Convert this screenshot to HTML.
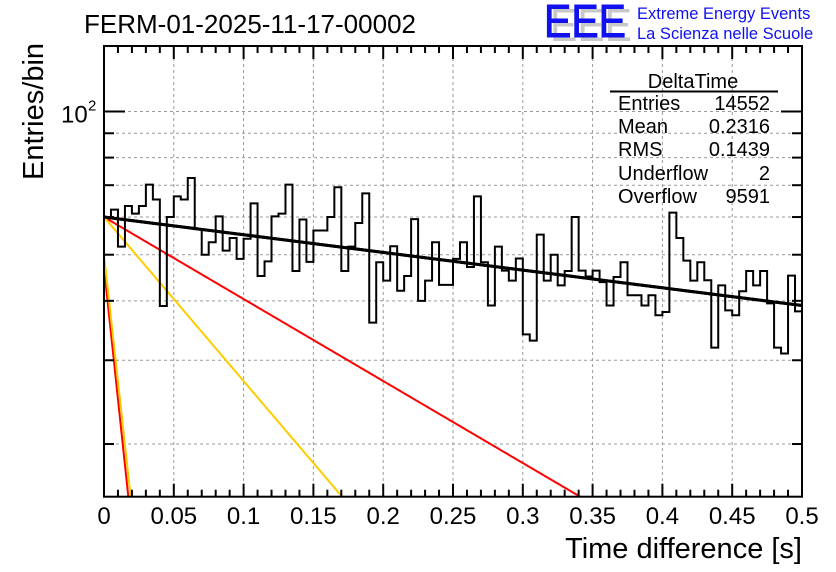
<!DOCTYPE html>
<html><head><meta charset="utf-8"><style>
body{margin:0;background:#fff;}
svg{display:block;font-family:"Liberation Sans",Arial,sans-serif;}
</style></head><body>
<svg id="chart" width="836" height="572" viewBox="0 0 836 572" xmlns="http://www.w3.org/2000/svg">
<rect width="836" height="572" fill="#fff"/>
<g id="grid"></g>
<g id="marks"></g>
<g id="axes"></g>
<text x="84" y="33" font-size="26" textLength="332" lengthAdjust="spacingAndGlyphs">FERM-01-2025-11-17-00002</text>
<text transform="translate(43,180) rotate(-90)" font-size="29">Entries/bin</text>
<text x="802" y="558" font-size="29" text-anchor="end">Time difference [s]</text>
<g>
<text x="550" y="41" font-size="46" fill="#c8c8c8" textLength="82" lengthAdjust="spacingAndGlyphs">EEE</text>
<text x="544" y="37" font-size="46" fill="#1010f0" textLength="82" lengthAdjust="spacingAndGlyphs" stroke="#1010f0" stroke-width="1">EEE</text>
<text x="637" y="19" font-size="16.5" fill="#1010f0">Extreme Energy Events</text>
<text x="637" y="39" font-size="16.5" fill="#1010f0">La Scienza nelle Scuole</text>
</g>
<g font-size="20">
<text x="693" y="88" text-anchor="middle">DeltaTime</text>
<line x1="610" y1="91.5" x2="778" y2="91.5" stroke="#000" stroke-width="2"/>
<text x="618" y="110">Entries</text><text x="770" y="110" text-anchor="end">14552</text>
<text x="618" y="133">Mean</text><text x="770" y="133" text-anchor="end">0.2316</text>
<text x="618" y="156">RMS</text><text x="770" y="156" text-anchor="end">0.1439</text>
<text x="618" y="180">Underflow</text><text x="770" y="180" text-anchor="end">2</text>
<text x="618" y="203">Overflow</text><text x="770" y="203" text-anchor="end">9591</text>
</g>
</svg>
<script>
const binWidth = 0.005;
const counts = [60,62.2,52,63.3,61,63.3,70.2,65.3,39,60,
66.3,65.3,72.5,56.6,50,53.1,60.2,51,54.2,49,
54,64.1,45.1,48.4,60.2,61,70.2,46.2,59.3,48.3,
56.2,56.2,60,69.3,46.2,52,58.3,67.3,36,48.2,
44.1,52.1,42,45.1,59.4,40,44.1,53.1,43.2,43.2,
49,53.1,47.1,66.3,48.2,39.1,52,46.3,44.1,49.1,
34,33,55.1,44.1,50,43.1,46.2,60,46.3,45,
46.3,43.8,39.1,44.9,48.2,41.1,41.1,39.1,41.1,37.3,
37.9,61.3,54.2,48.6,44.1,48.2,44.2,31.9,43.1,38.2,
37.3,41.9,46.2,43.1,46.2,39.5,31.9,31,45.2,38];
const fitAmps = [60, 60, 60, 47, 50];
const fitTaus = [1.168, 0.252, 0.126, 0.0157, 0.0163];
const fitNames = ['fit-total','fit-slow-red','fit-slow-yellow','fit-fast-red','fit-fast-yellow'];
const fitColors = ['#000','#ff0000','#ffcc00','#ff0000','#ffcc00'];
const xTicks = [0,0.05,0.1,0.15,0.2,0.25,0.3,0.35,0.4,0.45,0.5];
const xTickLabels = ['0','0.05','0.1','0.15','0.2','0.25','0.3','0.35','0.4','0.45','0.5'];
const yMinorTicks = [20,30,40,50,60,70,80,90];

const L=104,R=802,T=46,B=496.7;
const xMin=0,xMax=0.5,yMin=15.5,yMax=137.3;
const X=v=>L+(v-xMin)/(xMax-xMin)*(R-L);
const Y=v=>B-(Math.log10(v)-Math.log10(yMin))/(Math.log10(yMax)-Math.log10(yMin))*(B-T);
const NS='http://www.w3.org/2000/svg';
function mk(tag,attrs,parent){const e=document.createElementNS(NS,tag);for(const k in attrs)e.setAttribute(k,attrs[k]);parent.appendChild(e);return e;}
const grid=document.getElementById('grid'),marks=document.getElementById('marks'),axes=document.getElementById('axes');

xTicks.forEach(t=>{if(t>xMin&&t<xMax){const g=mk('line',{x1:X(t),x2:X(t),y1:T,y2:B,stroke:'#999','stroke-dasharray':'3,3','stroke-width':1},grid);

}});
[...yMinorTicks,100].forEach(t=>{const g=mk('line',{x1:L,x2:R,y1:Y(t),y2:Y(t),stroke:'#999','stroke-dasharray':'3,3','stroke-width':1},grid);

});

const clip=mk('clipPath',{id:'pc'},marks);mk('rect',{x:L,y:T,width:R-L,height:B-T},clip);
fitAmps.forEach((a,i)=>{let d='';for(let k=0;k<=400;k++){const x=xMax*k/400;const v=a*Math.exp(-x/fitTaus[i]);if(v<yMin*0.9)break;d+=(d?'L':'M')+X(x).toFixed(2)+','+Y(v).toFixed(2);}
const p=mk('path',{d:d,fill:'none',stroke:fitColors[i],'stroke-width':i==0?3:2,'clip-path':'url(#pc)'},marks);

});

let d='M'+X(0)+','+Y(counts[0]);
counts.forEach((c,i)=>{d+='V'+Y(c).toFixed(2)+'H'+X((i+1)*binWidth).toFixed(2);});
const h=mk('path',{d:d,fill:'none',stroke:'#000','stroke-width':2},marks);


{let dd='';for(let k=0;k<=100;k++){const x=xMax*k/100;dd+=(k?'L':'M')+X(x).toFixed(2)+','+Y(fitAmps[0]*Math.exp(-x/fitTaus[0])).toFixed(2);}
const p=mk('path',{d:dd,fill:'none',stroke:'#000','stroke-width':3},marks);

}

const f=mk('rect',{x:L,y:T,width:R-L,height:B-T,fill:'none',stroke:'#000','stroke-width':2},axes);


for(let k=0;k<=50;k++){const x=k*0.01;const major=(k%5==0);const len=major?13:7;
mk('line',{x1:X(x),x2:X(x),y1:B,y2:B-len,stroke:'#000','stroke-width':2},axes);
mk('line',{x1:X(x),x2:X(x),y1:T,y2:T+len,stroke:'#000','stroke-width':2},axes);}
xTicks.forEach((t,i)=>{const tx=mk('text',{x:X(t),y:524,'font-size':24,'text-anchor':'middle'},axes);tx.textContent=xTickLabels[i];

});
[...yMinorTicks,100].forEach(t=>{const len=t==100?21:10;
mk('line',{x1:L,x2:L+len,y1:Y(t),y2:Y(t),stroke:'#000','stroke-width':2},axes);
mk('line',{x1:R,x2:R-len,y1:Y(t),y2:Y(t),stroke:'#000','stroke-width':2},axes);});
const yl=mk('text',{x:61,y:Y(100)+11,'font-size':24},axes);


yl.textContent='10';
const sup=mk('text',{x:88,y:Y(100)-1,'font-size':15},axes);sup.textContent='2';


</script>
</body></html>
